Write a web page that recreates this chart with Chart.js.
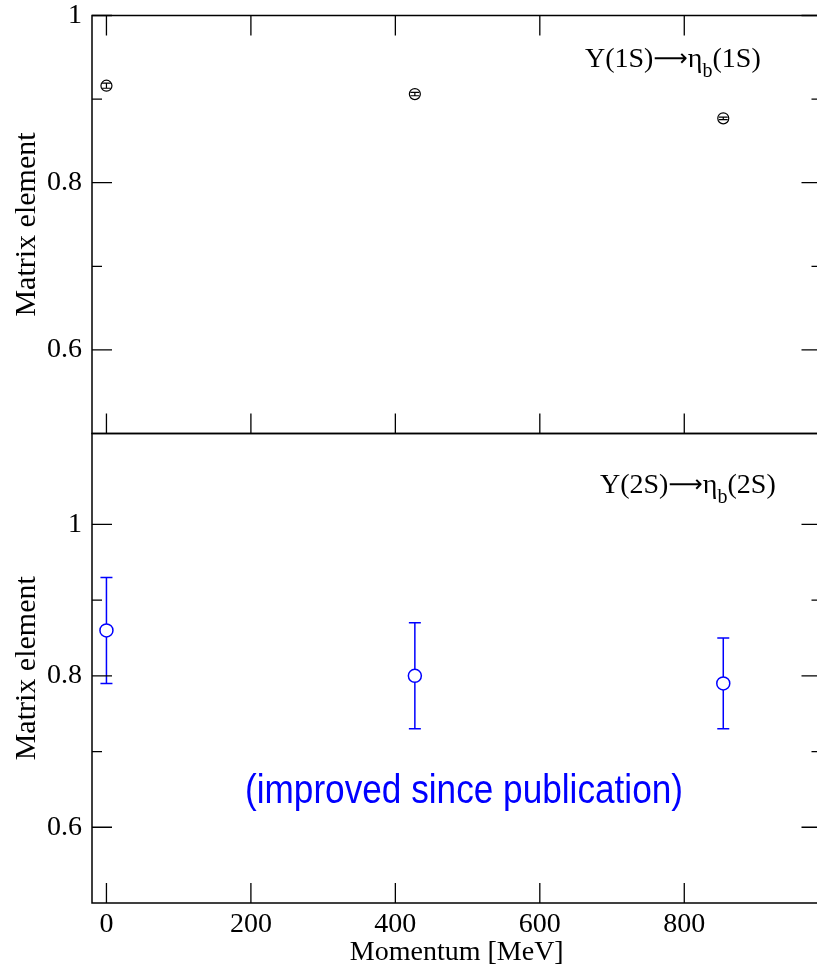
<!DOCTYPE html>
<html>
<head>
<meta charset="utf-8">
<script src="https://cdn.jsdelivr.net/npm/chart.js@4.4.1/dist/chart.umd.min.js"></script>
<style>
  html, body { margin: 0; padding: 0; background: #fff; overflow: hidden; }
  #wrap { position: relative; width: 817px; height: 972px; overflow: hidden; }
  #wrap canvas { position: absolute; left: 0; top: 0; }
</style>
</head>
<body>
<div id="wrap">
  <canvas id="chartTop" width="830" height="972"></canvas>
  <canvas id="chartBottom" width="830" height="972"></canvas>
</div>
<script>
// --- DATA ---
const momenta = [0, 427, 854];
const upsilon1S = [0.916, 0.906, 0.877];
const upsilon1SErr = [0.003, 0.002, 0.0015];
const upsilon2S = [0.86, 0.80, 0.79];
const upsilon2SErr = [0.07, 0.07, 0.06];

const xTicks = [0, 200, 400, 600, 800];
const xTickLabels = ["0", "200", "400", "600", "800"];
const yTicks = [0.6, 0.8, 1];
const yTickLabels = ["0.6", "0.8", "1"];

Chart.defaults.font.family = "'Liberation Serif', 'Times New Roman', serif";
Chart.defaults.color = "#000";

const toPoints = (xs, ys) => xs.map((x, i) => ({ x, y: ys[i] }));

// error bars, frame and inward ticks, all placed through the chart scales
const framePlugin = {
  id: "frame",
  afterDatasetsDraw(chart, args, opts) {
    const { ctx, chartArea: a, scales: { x, y } } = chart;
    ctx.save();

    // error bars
    chart.data.datasets.forEach((ds) => {
      ctx.strokeStyle = ds.borderColor;
      ctx.lineWidth = opts.barWidth;
      const r = ds.pointRadius;
      ds.data.forEach((p, i) => {
        const e = ds.errors[i];
        const px = x.getPixelForValue(p.x);
        const pc = y.getPixelForValue(p.y);
        const ph = y.getPixelForValue(p.y + e);
        const pl = y.getPixelForValue(p.y - e);
        ctx.beginPath();
        if (pl - pc > r) {
          ctx.moveTo(px, ph); ctx.lineTo(px, pc - r);
          ctx.moveTo(px, pc + r); ctx.lineTo(px, pl);
        } else {
          ctx.moveTo(px, ph); ctx.lineTo(px, pl);
        }
        ctx.moveTo(px - opts.cap, ph); ctx.lineTo(px + opts.cap, ph);
        ctx.moveTo(px - opts.cap, pl); ctx.lineTo(px + opts.cap, pl);
        ctx.stroke();
      });
    });

    // frame
    ctx.strokeStyle = "#000";
    ctx.lineWidth = 1.5;
    ctx.strokeRect(a.left, a.top, a.right - a.left, a.bottom - a.top);

    // ticks
    ctx.lineWidth = 1.3;
    ctx.beginPath();
    xTicks.forEach((v) => {
      const px = x.getPixelForValue(v);
      ctx.moveTo(px, a.bottom); ctx.lineTo(px, a.bottom - 20);
      if (opts.topTicks) { ctx.moveTo(px, a.top); ctx.lineTo(px, a.top + 20); }
    });
    yTicks.forEach((v, i) => {
      const py = y.getPixelForValue(v);
      ctx.moveTo(a.left, py); ctx.lineTo(a.left + 20, py);
      ctx.moveTo(a.right, py); ctx.lineTo(a.right - 20, py);
      if (i > 0) {
        const pm = y.getPixelForValue((v + yTicks[i - 1]) / 2);
        ctx.moveTo(a.left, pm); ctx.lineTo(a.left + 10, pm);
        ctx.moveTo(a.right, pm); ctx.lineTo(a.right - 10, pm);
      }
    });
    ctx.stroke();
    ctx.restore();
  },
  afterDraw(chart, args, opts) {
    const { ctx } = chart;
    const l = opts.label;
    ctx.save();
    ctx.fillStyle = "#000";
    ctx.textBaseline = "alphabetic";
    ctx.textAlign = "left";
    let cx = l.x;
    // label pieces: [text, font, baseline shift]
    const parts = [
      [l.head, "28px 'Liberation Serif'", 0],
      ["\u27F6", "24px 'DejaVu Sans'", -1],
      ["\u03B7", "28px 'Liberation Serif'", 0],
      ["b", "20px 'Liberation Serif'", 10],
      [l.tail, "28px 'Liberation Serif'", 0]
    ];
    parts.forEach(([t, f, dy]) => {
      ctx.font = f;
      ctx.fillText(t, cx, l.y + dy);
      cx += ctx.measureText(t).width;
    });

    if (opts.note) {
      ctx.fillStyle = "#0000ff";
      ctx.font = "40px 'Liberation Sans'";
      ctx.fillText(opts.note.text, opts.note.x, opts.note.y, opts.note.width);
    }
    ctx.restore();
  }
};

function yScale(min, max) {
  return {
    type: "linear",
    min, max,
    afterBuildTicks: (s) => { s.ticks = yTicks.map((v) => ({ value: v })); },
    afterFit: (s) => { s.width = 92; s.paddingTop = 0; s.paddingBottom = 0; },
    grid: { display: false, drawTicks: false },
    border: { display: false },
    ticks: {
      padding: 10,
      font: { size: 28, lineHeight: 1 },
      callback: (v) => yTickLabels[yTicks.indexOf(v)]
    },
    title: {
      display: true,
      text: "Matrix element",
      font: { size: 30 },
      padding: { top: 9, bottom: 0 }
    }
  };
}

const common = {
  responsive: false,
  animation: false,
  events: [],
  plugins: { legend: { display: false }, tooltip: { enabled: false } }
};

// --- TOP PANEL ---
new Chart(document.getElementById("chartTop"), {
  type: "scatter",
  data: {
    datasets: [{
      data: toPoints(momenta, upsilon1S),
      errors: upsilon1SErr,
      borderColor: "#000",
      backgroundColor: "#fff",
      pointRadius: 5.5,
      pointBorderWidth: 1.2
    }]
  },
  options: {
    ...common,
    layout: { padding: { left: 0, right: 8.5, top: 15.5, bottom: 538.5 } },
    scales: {
      x: { type: "linear", min: -20, max: 990, display: false },
      y: yScale(0.5, 1)
    },
    plugins: {
      ...common.plugins,
      frame: {
        topTicks: true,
        barWidth: 1.2,
        cap: 4.5,
        label: { x: 585, y: 67, head: "\u03A5(1S)", tail: "(1S)" }
      }
    }
  },
  plugins: [framePlugin]
});

// --- BOTTOM PANEL ---
new Chart(document.getElementById("chartBottom"), {
  type: "scatter",
  data: {
    datasets: [{
      data: toPoints(momenta, upsilon2S),
      errors: upsilon2SErr,
      borderColor: "#0000ff",
      backgroundColor: "#fff",
      pointRadius: 6.5,
      pointBorderWidth: 1.5
    }]
  },
  options: {
    ...common,
    layout: { padding: { left: 0, right: 8.5, top: 433.5, bottom: 0 } },
    scales: {
      x: {
        type: "linear",
        min: -20, max: 990,
        afterBuildTicks: (s) => { s.ticks = xTicks.map((v) => ({ value: v })); },
        afterFit: (s) => { s.height = 69; s.paddingLeft = 0; s.paddingRight = 0; },
        grid: { display: false, drawTicks: false },
        border: { display: false },
        ticks: {
          padding: 8,
          maxRotation: 0,
          font: { size: 28, lineHeight: 1 },
          callback: (v) => xTickLabels[xTicks.indexOf(v)]
        },
        title: {
          display: true,
          text: "Momentum [MeV]",
          font: { size: 28 },
          padding: { top: 0, bottom: 3 }
        }
      },
      y: yScale(0.5, 1.12)
    },
    plugins: {
      ...common.plugins,
      frame: {
        topTicks: false,
        barWidth: 1.5,
        cap: 6,
        label: { x: 600, y: 493, head: "\u03A5(2S)", tail: "(2S)" },
        note: { text: "(improved since publication)", x: 245, y: 803, width: 438 }
      }
    }
  },
  plugins: [framePlugin]
});
</script>
</body>
</html>
